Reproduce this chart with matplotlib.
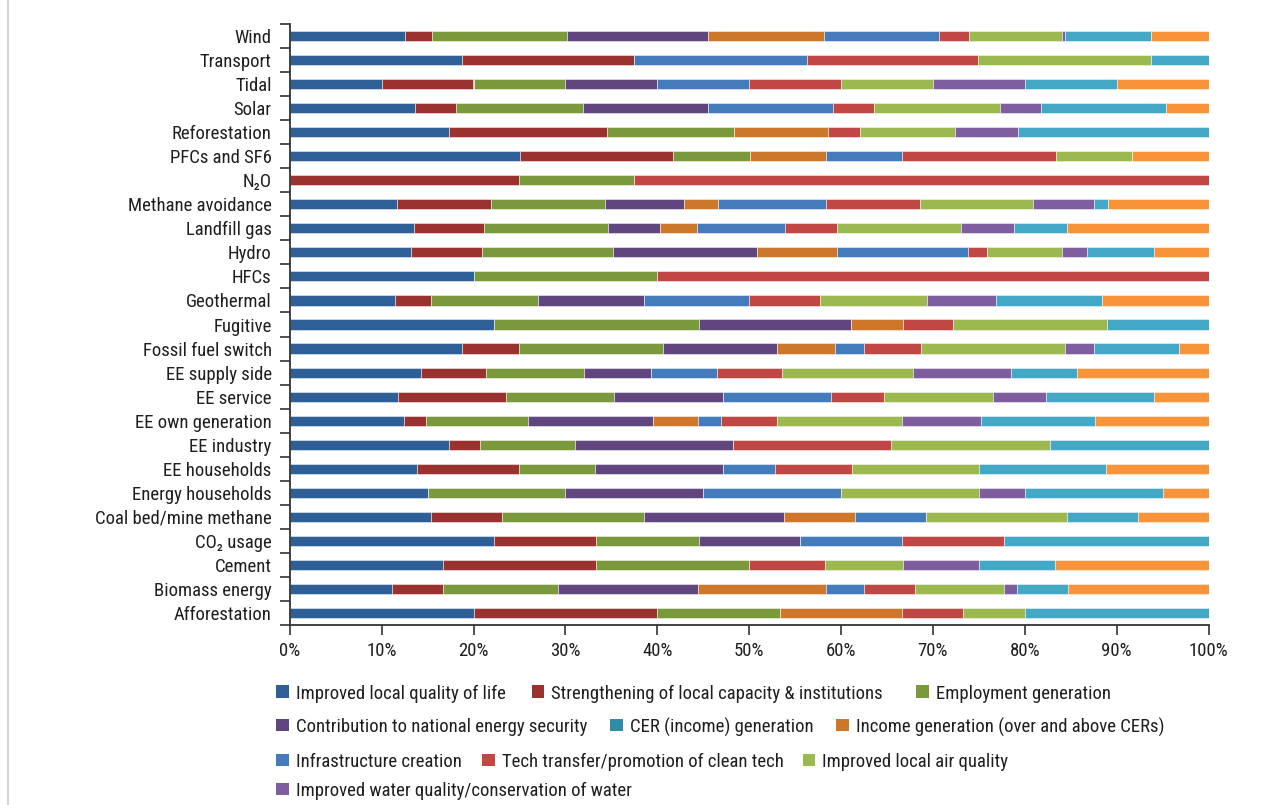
import numpy as np
import matplotlib
matplotlib.use("Agg")
import matplotlib.pyplot as plt
from matplotlib import font_manager as fm
from matplotlib.patches import Rectangle
from matplotlib.lines import Line2D

# ---------------------------------------------------------------- data
categories = [
    "Wind", "Transport", "Tidal", "Solar", "Reforestation", "PFCs and SF6",
    "N\u2082O", "Methane avoidance", "Landfill gas", "Hydro", "HFCs",
    "Geothermal", "Fugitive", "Fossil fuel switch", "EE supply side",
    "EE service", "EE own generation", "EE industry", "EE households",
    "Energy households", "Coal bed/mine methane", "CO\u2082 usage", "Cement",
    "Biomass energy", "Afforestation",
]

quality_of_life = [12.6, 18.8, 10, 13.6, 17.3, 25.0, 0, 11.7, 13.5, 13.2, 20,
                   11.5, 22.2, 18.8, 14.3, 11.8, 12.4, 17.3, 13.9, 15.0, 15.4,
                   22.2, 16.7, 11.1, 20.0]
local_capacity = [2.9, 18.7, 10, 4.5, 17.2, 16.7, 25.0, 10.2, 7.7, 7.7, 0,
                  3.9, 0, 6.2, 7.1, 11.7, 2.5, 3.4, 11.1, 0, 7.7, 11.1, 16.6,
                  5.6, 20.0]
employment = [14.7, 0, 10, 13.8, 13.8, 8.3, 12.5, 12.4, 13.5, 14.3, 20, 11.6,
              22.3, 15.7, 10.7, 11.8, 11.1, 10.3, 8.3, 15.0, 15.4, 11.2, 16.7,
              12.5, 13.3]
energy_security = [15.4, 0, 10, 13.6, 0, 0, 0, 8.7, 5.7, 15.6, 0, 11.5, 16.6,
                   12.4, 7.2, 11.8, 13.6, 17.2, 13.9, 15.0, 15.3, 11.0, 0,
                   15.3, 0]
cer_income = [0] * 25
extra_income = [12.6, 0, 0, 0, 10.3, 8.3, 0, 3.7, 4.0, 8.7, 0, 0, 5.6, 6.3, 0,
                0, 4.9, 0, 0, 0, 7.7, 0, 0, 13.9, 13.3]
infrastructure = [12.5, 18.8, 10, 13.6, 0, 8.3, 0, 11.7, 9.6, 14.3, 0, 11.5,
                  0, 3.2, 7.2, 11.8, 2.5, 0, 5.7, 15.0, 7.7, 11.1, 0, 4.2, 0]
tech_transfer = [3.3, 18.7, 10, 4.5, 3.5, 16.7, 62.5, 10.2, 5.7, 2.1, 60, 7.7,
                 5.5, 6.2, 7.1, 5.8, 6.1, 17.2, 8.3, 0, 0, 11.1, 8.3, 5.5, 6.7]
air_quality = [10.1, 18.8, 10, 13.7, 10.3, 8.3, 0, 12.4, 13.5, 8.1, 0, 11.6,
               16.7, 15.7, 14.3, 11.8, 13.6, 17.3, 13.9, 15.0, 15.4, 0, 8.4,
               9.7, 6.7]
water_quality = [0.4, 0, 10, 4.5, 6.9, 0, 0, 6.6, 5.8, 2.8, 0, 7.6, 0, 3.1,
                 10.7, 5.8, 8.6, 0, 0, 5.0, 0, 0, 8.3, 1.4, 0]
other_benefits = [9.3, 6.3, 10, 13.6, 20.7, 0, 0, 1.5, 5.8, 7.3, 0, 11.5, 11.1,
                  9.3, 7.2, 11.8, 12.4, 17.2, 13.8, 15.0, 7.7, 22.2, 8.3, 5.6,
                  20.0]
unspecified = [6.3, 0, 10, 4.6, 0, 8.3, 0, 11.0, 15.4, 5.9, 0, 11.6, 0, 3.2,
               14.3, 5.9, 12.4, 0, 11.2, 5.0, 7.7, 0, 16.7, 15.3, 0]

series_names = [
    "Improved local quality of life",
    "Strengthening of local capacity & institutions",
    "Employment generation",
    "Contribution to national energy security",
    "CER (income) generation",
    "Income generation (over and above CERs)",
    "Infrastructure creation",
    "Tech transfer/promotion of clean tech",
    "Improved local air quality",
    "Improved water quality/conservation of water",
    "Other benefits",
    "Unspecified",
]
series_values = [quality_of_life, local_capacity, employment, energy_security,
                 cer_income, extra_income, infrastructure, tech_transfer,
                 air_quality, water_quality, other_benefits, unspecified]
series_colors = ["#2F5F97", "#9A3230", "#7A983C", "#61457E", "#2E8CA3",
                 "#CC772A", "#447CBB", "#C14744", "#9BB94F", "#7F5E9F",
                 "#42A8C5", "#F79439"]
n_legend = 10

# ---------------------------------------------------------------- fonts
def pick_font():
    entries = fm.fontManager.ttflist
    names = {f.name for f in entries}
    for fam in ["Roboto Condensed", "Liberation Sans Narrow",
                "Open Sans Condensed", "DejaVu Sans Condensed"]:
        if fam in names:
            return fam, "normal"
    for fam in ["Noto Sans", "Open Sans", "Roboto"]:
        if any(f.name == fam and str(f.stretch) in ("condensed", "semi-condensed")
               for f in entries):
            return fam, "condensed"
    return "Liberation Sans", "normal"

FONT, STRETCH = pick_font()
plt.rcParams["font.family"] = [FONT, "DejaVu Sans"]
plt.rcParams["font.stretch"] = STRETCH
TEXT_COLOR = "#1F1F1F"
FS = 13.5

# ---------------------------------------------------------------- figure
W, H = 1288, 805
fig = plt.figure(figsize=(W / 100, H / 100), dpi=100)
fig.patch.set_facecolor("white")

x0, x1 = 289.7, 1208.7
y_top, y_bot = 24, 625
ax = fig.add_axes([x0 / W, 1 - y_bot / H, (x1 - x0) / W, (y_bot - y_top) / H])

values = np.array(series_values, dtype=float)
shares = values / values.sum(axis=0) * 100
ypos = np.arange(len(categories))

left = np.zeros(len(categories))
for share, color, name in zip(shares, series_colors, series_names):
    ax.barh(ypos, share, left=left, height=0.42, color=color,
            edgecolor=(1, 1, 1, 0.55), linewidth=0.6, label=name)
    left += share

ax.set_xlim(0, 100)
ax.set_ylim(len(categories) - 0.5, -0.5)

ax.set_xticks(np.arange(0, 101, 10))
ax.set_xticklabels([f"{v}%" for v in range(0, 101, 10)], fontsize=FS,
                   color=TEXT_COLOR)
ax.set_yticks(ypos)
ax.set_yticklabels(categories, fontsize=FS, color=TEXT_COLOR)
ax.set_yticks(np.arange(-0.5, len(categories), 1), minor=True)

axis_color = "#333333"
ax.tick_params(axis="y", which="major", length=0, pad=13)
ax.tick_params(axis="y", which="minor", length=7, width=1.2, color=axis_color,
               direction="out")
ax.tick_params(axis="x", which="major", length=7, width=1.2, color=axis_color,
               direction="out", pad=5)
for side in ("top", "right"):
    ax.spines[side].set_visible(False)
for side in ("left", "bottom"):
    ax.spines[side].set_color(axis_color)
    ax.spines[side].set_linewidth(1.3)

# ---------------------------------------------------------------- legend
legend_rows = [
    (691.5, [0, 1, 2], [276, 531.5, 916]),
    (725.0, [3, 4, 5], [276, 610, 836]),
    (760.0, [6, 7, 8], [276, 482, 802.5]),
    (789.0, [9], [276]),
]
sw = 12.6
for yc, idxs, xs in legend_rows:
    for i, xs_ in zip(idxs, xs):
        fig.add_artist(Rectangle((xs_ / W, 1 - (yc + sw / 2) / H), sw / W, sw / H,
                                 transform=fig.transFigure,
                                 facecolor=series_colors[i], edgecolor="none"))
        fig.text((xs_ + 19.6) / W, 1 - yc / H, series_names[i], fontsize=FS,
                 color=TEXT_COLOR, ha="left", va="center_baseline")

# light frame line on the left edge
fig.add_artist(Line2D([8 / W, 8 / W], [0, 1], transform=fig.transFigure,
                      color="#D4D4D4", linewidth=1.6))

fig.savefig("out.png", dpi=100, facecolor="white")
